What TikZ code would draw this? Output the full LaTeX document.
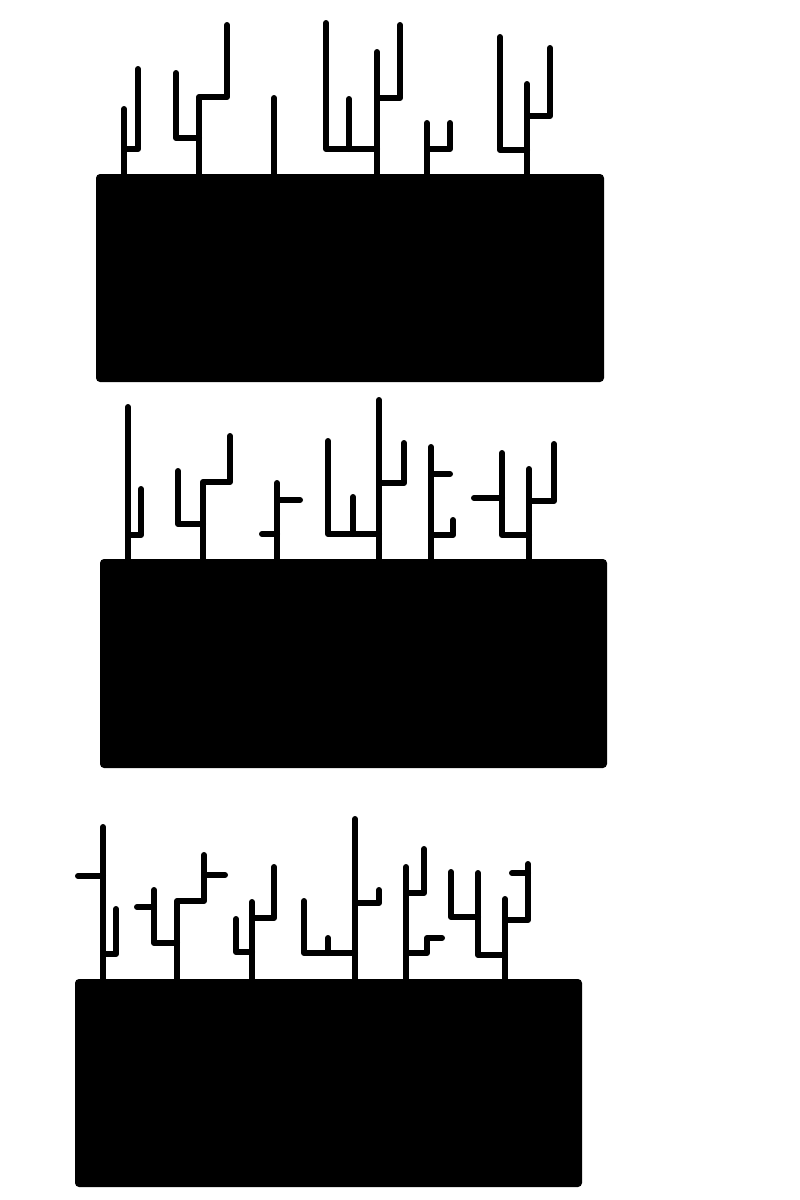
\documentclass[tikz,border=0pt]{standalone}
\begin{document}
\begin{tikzpicture}[x=1pt,y=-1pt,
  stem/.style={line width=6pt,line cap=round,line join=round},
  soil/.style={fill=black,rounded corners=4pt}]
\useasboundingbox (0,0) rectangle (800,1200);
% panel 1
\fill[soil] (96,174) rectangle (604,382);
\draw[stem] (124,175)--(124,109) (124,149)--(138,149)--(138,69);
\draw[stem] (199,175)--(199,97)--(227,97)--(227,25) (199,138)--(176,138)--(176,73);
\draw[stem] (274,175)--(274,98);
\draw[stem] (377,175)--(377,52) (377,98)--(400,98)--(400,25) (377,149)--(326,149)--(326,23) (349,149)--(349,99);
\draw[stem] (427,175)--(427,123) (427,149)--(450,149)--(450,123);
\draw[stem] (527,175)--(527,84) (527,150)--(500,150)--(500,37) (527,116)--(550,116)--(550,48);
% panel 2
\fill[soil] (100,559) rectangle (607,768);
\draw[stem] (128,560)--(128,407) (128,535)--(141,535)--(141,489);
\draw[stem] (203,560)--(203,482)--(230,482)--(230,436) (203,524)--(178,524)--(178,471);
\draw[stem] (277,560)--(277,483) (277,500)--(300,500) (262,534)--(277,534);
\draw[stem] (379,560)--(379,400) (379,483)--(404,483)--(404,443) (379,534)--(328,534)--(328,441) (353,534)--(353,497);
\draw[stem] (431,560)--(431,447) (431,474)--(450,474) (431,535)--(453,535)--(453,520);
\draw[stem] (529,560)--(529,469) (529,535)--(502,535)--(502,453) (474,498)--(502,498) (529,501)--(554,501)--(554,444);
% panel 3
\fill[soil] (75,979) rectangle (582,1187);
\draw[stem] (103,980)--(103,827) (78,876)--(103,876) (103,954)--(116,954)--(116,909);
\draw[stem] (177,980)--(177,901)--(204,901)--(204,855) (204,875)--(225,875) (177,943)--(154,943)--(154,890) (137,907)--(154,907);
\draw[stem] (252,980)--(252,902) (252,918)--(274,918)--(274,867) (252,952)--(236,952)--(236,919);
\draw[stem] (355,980)--(355,819) (355,903)--(379,903)--(379,890) (355,953)--(304,953)--(304,901) (328,953)--(328,938);
\draw[stem] (406,980)--(406,867) (406,893)--(424,893)--(424,849) (406,953)--(427,953)--(427,938)--(442,938);
\draw[stem] (505,980)--(505,899) (505,955)--(478,955)--(478,873) (478,917)--(451,917)--(451,872) (505,920)--(528,920)--(528,864) (512,873)--(528,873);
\end{tikzpicture}
\end{document}
